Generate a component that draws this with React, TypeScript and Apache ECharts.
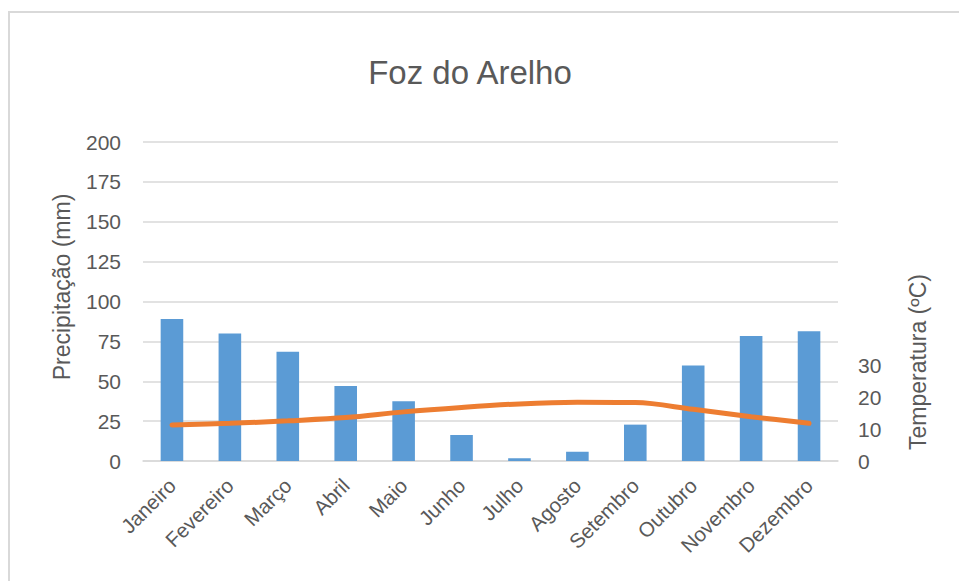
import React, { useEffect, useRef } from "react";
import * as echarts from "echarts";

const months = ["Janeiro", "Fevereiro", "Março", "Abril", "Maio", "Junho", "Julho", "Agosto", "Setembro", "Outubro", "Novembro", "Dezembro"];
const precipitation = [89, 80, 68.5, 47, 37.4, 16.3, 1.7, 5.8, 22.8, 59.8, 78.4, 81.3];
const temperature = [11.3, 11.8, 12.6, 13.6, 15.4, 16.8, 17.9, 18.4, 18.3, 16.2, 13.9, 11.8];
const tempTickLabels = [0, 10, 20, 30];

const FONT = "'Liberation Sans', Arial, sans-serif";
const TXT = "#595959";
const GRID = "#d9d9d9";

export default function App() {
  const ref = useRef<HTMLDivElement>(null);
  useEffect(() => {
    if (!ref.current) return;
    const chart = echarts.init(ref.current, null, { renderer: "svg" });
    chart.setOption({
      animation: false,
      backgroundColor: "#ffffff",
      textStyle: { fontFamily: FONT, color: TXT },
      title: {
        text: "Foz do Arelho",
        left: 465,
        top: 51,
        textAlign: "center",
        textStyle: { fontFamily: FONT, fontSize: 33, fontWeight: "normal", color: TXT },
      },
      grid: { left: 143, right: 121, top: 142, bottom: 120 },
      xAxis: {
        type: "category",
        data: months,
        axisLine: { lineStyle: { color: GRID, width: 1.5 } },
        axisTick: { show: false },
        axisLabel: { rotate: 45, margin: 21, fontSize: 20.5, color: TXT, fontFamily: FONT, interval: 0 },
      },
      yAxis: [
        {
          type: "value",
          min: 0,
          max: 200,
          interval: 25,
          axisLine: { show: false },
          axisTick: { show: false },
          splitLine: { lineStyle: { color: GRID, width: 1.5 } },
          axisLabel: { fontSize: 21, color: TXT, fontFamily: FONT, margin: 22 },
        },
        {
          type: "value",
          min: 0,
          max: 100,
          interval: 10,
          position: "right",
          axisLine: { show: false },
          axisTick: { show: false },
          splitLine: { show: false },
          axisLabel: {
            fontSize: 21,
            color: TXT,
            fontFamily: FONT,
            margin: 20,
            formatter: (v: number) => (tempTickLabels.includes(v) ? String(v) : ""),
          },
        },
      ],
      series: [
        {
          name: "Precipitação (mm)",
          type: "bar",
          data: precipitation,
          barWidth: "39%",
          itemStyle: { color: "#5B9BD5" },
          yAxisIndex: 0,
        },
        {
          name: "Temperatura (ºC)",
          type: "line",
          data: temperature,
          yAxisIndex: 1,
          smooth: 0.35,
          showSymbol: false,
          lineStyle: { color: "#ED7D31", width: 5, cap: "round" },
          itemStyle: { color: "#ED7D31" },
        },
      ],
      graphic: [
        { type: "line", shape: { x1: 8, y1: 12, x2: 959, y2: 12 }, style: { stroke: GRID, lineWidth: 2 } },
        { type: "line", shape: { x1: 9, y1: 12, x2: 9, y2: 581 }, style: { stroke: GRID, lineWidth: 2 } },
        {
          type: "text",
          x: 62,
          y: 287,
          rotation: Math.PI / 2,
          style: { text: "Precipitação (mm)", fill: TXT, fontSize: 23, fontFamily: FONT, textAlign: "center", textVerticalAlign: "middle" },
        },
        {
          type: "text",
          x: 918,
          y: 362,
          rotation: Math.PI / 2,
          style: { text: "Temperatura (ºC)", fill: TXT, fontSize: 23, fontFamily: FONT, textAlign: "center", textVerticalAlign: "middle" },
        },
      ],
    });
    return () => chart.dispose();
  }, []);
  return <div ref={ref} style={{ position: "fixed", left: 0, top: 0, width: 959, height: 581 }} />;
}
